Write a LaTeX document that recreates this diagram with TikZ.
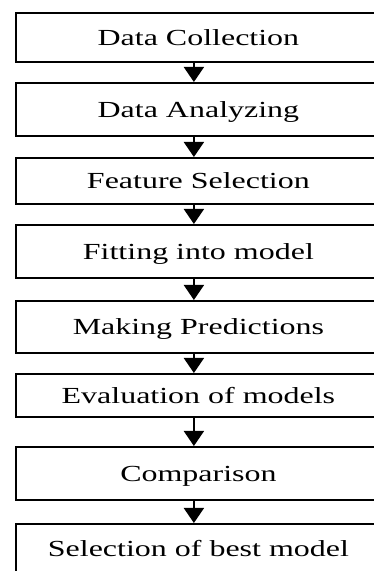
\documentclass[tikz,border=0pt]{standalone}
\usepackage{fontspec}
\setmainfont{Liberation Serif}
\usetikzlibrary{arrows.meta}
\begin{document}
\begin{tikzpicture}[x=1pt,y=1pt,
  box/.style={draw=black, line width=1.8pt, rectangle, minimum width=365pt,
    inner sep=0pt, text height=16pt, text depth=0pt, anchor=north west,
    font=\fontsize{23}{27}\selectfont},
  arr/.style={line width=1.8pt, -{Triangle[width=20pt,length=15pt]}}]
\useasboundingbox (0,0) rectangle (374,571);
\clip (0,0) rectangle (374,571);
\fill[white] (0,0) rectangle (374,571);
\node[box, minimum height=49pt] (b1) at (15,559) {\scalebox{1.39}[1]{Data Collection}};
\node[box, minimum height=53pt] (b2) at (15,489) {\scalebox{1.39}[1]{Data Analyzing}};
\node[box, minimum height=46pt] (b3) at (15,414) {\scalebox{1.39}[1]{Feature Selection}};
\node[box, minimum height=53pt] (b4) at (15,347) {\scalebox{1.39}[1]{Fitting into model}};
\node[box, minimum height=52pt] (b5) at (15,271) {\scalebox{1.39}[1]{Making Predictions}};
\node[box, minimum height=43pt] (b6) at (15,198) {\scalebox{1.39}[1]{Evaluation of models}};
\node[box, minimum height=53pt] (b7) at (15,125) {\scalebox{1.39}[1]{Comparison}};
\node[box, minimum height=50pt] (b8) at (15,48) {\scalebox{1.39}[1]{Selection of best model}};
\foreach \a/\b in {b1/b2,b2/b3,b3/b4,b4/b5,b5/b6,b6/b7,b7/b8}
  \draw[arr] ([xshift=-4.5pt]\a.south) -- ([xshift=-4.5pt]\b.north);
\end{tikzpicture}
\end{document}
